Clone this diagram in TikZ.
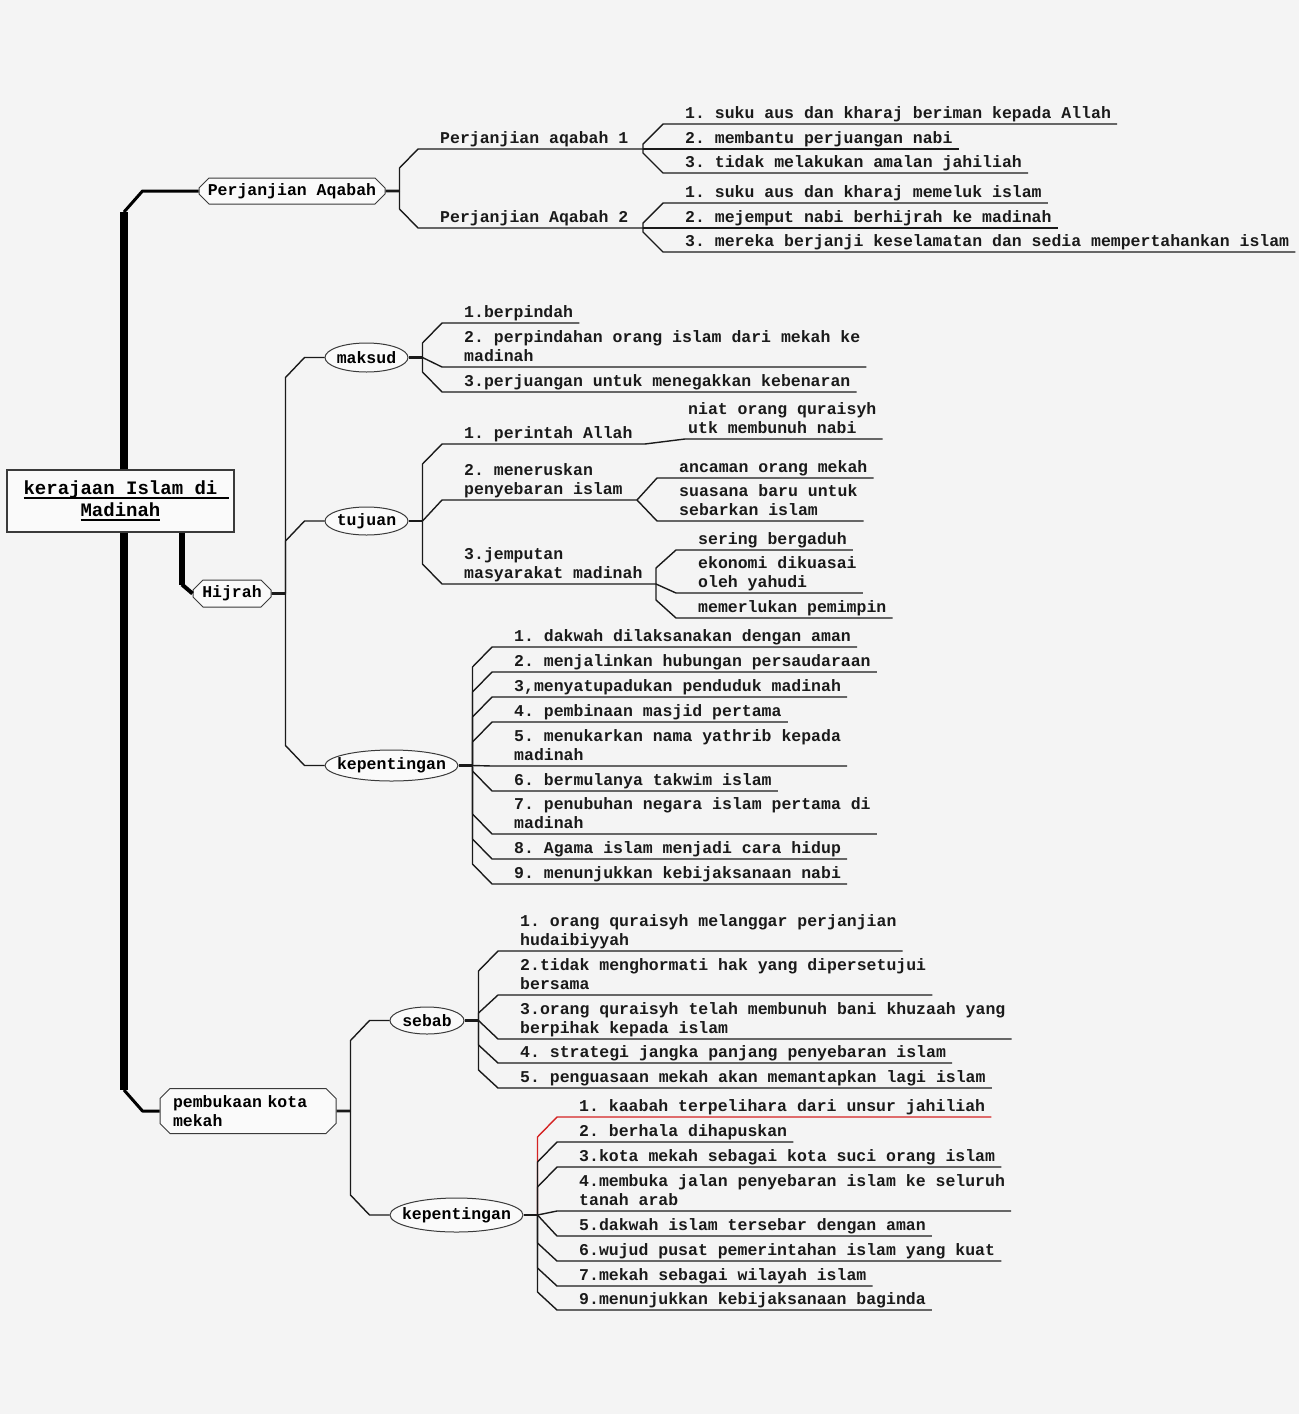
\documentclass[tikz,border=0pt]{standalone}
\usepackage{fontspec}
\setmainfont{Liberation Mono}
\usepackage{tikz}
\usetikzlibrary{shapes}
\usetikzlibrary{calc}
\usetikzlibrary{positioning}
\definecolor{paper}{HTML}{F4F4F4}
\definecolor{boxfill}{HTML}{FAFAFA}
\definecolor{mapline}{HTML}{1A1A1A}
\definecolor{rim}{HTML}{3A3A3A}
\definecolor{hilite}{HTML}{D42222}
\frenchspacing
\newcommand{\leaffont}{\fontsize{16.5}{19}\selectfont\bfseries}
\newcommand{\rootfont}{\fontsize{19}{22}\selectfont\bfseries}
\newcommand{\ulin}[1]{\setbox0=\hbox{#1}\rlap{\rule[-4.5pt]{\wd0}{1.8pt}}\box0}
\newcommand{\lbl}[1]{\makebox[0pt]{#1}}
\tikzstyle{rootbox} = [draw=rim, fill=boxfill, line width=1.2pt, minimum width=227pt, minimum height=62pt, inner sep=0pt, align=center, font=\rootfont]
\tikzstyle{topic} = [chamfered rectangle, chamfered rectangle xsep=5pt, chamfered rectangle ysep=5pt, draw=rim, fill=boxfill, line width=1pt, inner sep=0pt]
\tikzstyle{subtopic} = [ellipse, draw=rim, fill=boxfill, line width=1pt, inner sep=0pt]
\tikzstyle{leaf} = [anchor=south west, xshift=16pt, yshift=-0.7pt, inner xsep=6pt, inner ysep=0pt, align=left, text=mapline, execute at end node=\strut]
\tikzstyle{conn} = [draw=mapline, line width=1.4pt, line join=round]
\tikzstyle{stub} = [draw=mapline, line width=2.6pt]
\tikzstyle{trunk} = [draw=black, line width=8pt]
\tikzstyle{elbow} = [draw=black, line width=3pt, line join=round]

\begin{document}
\begin{tikzpicture}[x=1pt, y=-1pt, font=\leaffont]
  \fill[paper] (0,0) rectangle (1299,1414);
  \useasboundingbox (0,0) rectangle (1299,1414);

  % main topics
  \node[rootbox] (root) at (120.5,501) {\ulin{kerajaan Islam di}\rlap{\ulin{\ }}\\\ulin{Madinah}};
  \node[topic, minimum width=186pt, minimum height=26pt] (aqabah) at (292,191) {Perjanjian Aqabah};
  \node[topic, minimum width=78pt, minimum height=27pt] (hijrah) at (232,593.5) {Hijrah};
  \node[topic, minimum width=176pt, minimum height=45pt, text width=150pt, align=left] (mekah) at (248,1111) {pembukaan kota\\mekah};
  \coordinate (tk) at (124,501);
  \coordinate (hk) at (182,501);
  \draw[trunk] (tk |- root.north) -- ([yshift=-21pt]aqabah.west -| tk);
  \draw[trunk] (tk |- root.south) -- ([yshift=21pt]mekah.west -| tk);
  \draw[trunk, line width=6pt] (hk |- root.south) -- ([yshift=9pt]hijrah.west -| hk);
  \draw[elbow] ([yshift=-21pt]aqabah.west -| tk) -- ([xshift=-56pt]aqabah.west) -- (aqabah.west);
  \draw[elbow] ([yshift=21pt]mekah.west -| tk) -- ([xshift=-17pt]mekah.west) -- (mekah.west);
  \draw[elbow, line width=4pt] ([yshift=9pt]hijrah.west -| hk) -- (hijrah.west);

  % Perjanjian Aqabah
  \coordinate (aj) at ($(aqabah.east)+(14,0)$);
  \draw[stub] (aqabah) -- (aj);
  \coordinate (a1) at (418,149); \node[leaf] (a1t) at (a1) {Perjanjian aqabah 1};
  \coordinate (a2) at (418,228); \node[leaf] (a2t) at (a2) {Perjanjian Aqabah 2};
  \coordinate (a1j) at (643,149);
  \coordinate (a2j) at (643,228);
  \draw[conn] (aj) -- ([yshift=-19pt]a1 -| aj) -- (a1) -- (a1j);
  \draw[conn] (aj) -- ([yshift=19pt]a2 -| aj) -- (a2) -- (a2j);
  \coordinate (a11) at (663,124); \node[leaf] (a11t) at (a11) {1. suku aus dan kharaj beriman kepada Allah};
  \coordinate (a12) at (663,149); \node[leaf] (a12t) at (a12) {2. membantu perjuangan nabi};
  \coordinate (a13) at (663,173); \node[leaf] (a13t) at (a13) {3. tidak melakukan amalan jahiliah};
  \draw[conn] (a1j) -- ([yshift=-20pt]a11 -| a1j) -- (a11) -- (a11 -| a11t.east);
  \draw[conn] (a1j) -- (a12) -- (a12 -| a12t.east);
  \draw[conn] (a1j) -- ([yshift=20pt]a13 -| a1j) -- (a13) -- (a13 -| a13t.east);
  \coordinate (a21) at (663,203); \node[leaf] (a21t) at (a21) {1. suku aus dan kharaj memeluk islam};
  \coordinate (a22) at (663,228); \node[leaf] (a22t) at (a22) {2. mejemput nabi berhijrah ke madinah};
  \coordinate (a23) at (663,252); \node[leaf] (a23t) at (a23) {3. mereka berjanji keselamatan dan sedia mempertahankan islam};
  \draw[conn] (a2j) -- ([yshift=-20pt]a21 -| a2j) -- (a21) -- (a21 -| a21t.east);
  \draw[conn] (a2j) -- (a22) -- (a22 -| a22t.east);
  \draw[conn] (a2j) -- ([yshift=20pt]a23 -| a2j) -- (a23) -- (a23 -| a23t.east);

  % Hijrah
  \coordinate (hj) at ($(hijrah.east)+(14,0)$);
  \draw[stub] (hijrah) -- (hj);
  \node[subtopic, minimum width=83pt, minimum height=29pt] (maksud) at (366.5,357.5) {\lbl{maksud}};
  \node[subtopic, minimum width=83pt, minimum height=28pt] (tujuan) at (366.5,521) {\lbl{tujuan}};
  \node[subtopic, minimum width=133pt, minimum height=31pt] (hkep) at (391.5,765.5) {\lbl{kepentingan}};
  \draw[conn] (hj) -- ([yshift=-20pt]maksud.west -| hj) -- ([xshift=-20pt]maksud.west) -- (maksud);
  \draw[conn] (hj) -- ([yshift=-20pt]tujuan.west -| hj) -- ([xshift=-20pt]tujuan.west) -- (tujuan);
  \draw[conn] (hj) -- ([yshift=20pt]hkep.west -| hj) -- ([xshift=-20pt]hkep.west) -- (hkep);

  % maksud
  \coordinate (mj) at ($(maksud.east)+(14,0)$);
  \draw[stub] (maksud) -- (mj);
  \coordinate (m1) at (442,323); \node[leaf] (m1t) at (m1) {1.berpindah};
  \coordinate (m2) at (442,367); \node[leaf] (m2t) at (m2) {2. perpindahan orang islam dari mekah ke\\madinah};
  \coordinate (m3) at (442,392); \node[leaf] (m3t) at (m3) {3.perjuangan untuk menegakkan kebenaran};
  \draw[conn] (mj) -- ([yshift=-20pt]m1 -| mj) -- (m1) -- (m1 -| m1t.east);
  \draw[conn] (mj) -- (m2) -- (m2 -| m2t.east);
  \draw[conn] (mj) -- ([yshift=20pt]m3 -| mj) -- (m3) -- (m3 -| m3t.east);

  % tujuan
  \coordinate (tj) at ($(tujuan.east)+(14,0)$);
  \draw[stub] (tujuan) -- (tj);
  \coordinate (t1) at (442,444); \node[leaf] (t1t) at (t1) {1. perintah Allah};
  \coordinate (t2) at (442,500); \node[leaf] (t2t) at (t2) {2. meneruskan\\penyebaran islam};
  \coordinate (t3) at (442,584); \node[leaf] (t3t) at (t3) {3.jemputan\\masyarakat madinah};
  \coordinate (t1j) at (645,444);
  \coordinate (t2j) at (637,500);
  \coordinate (t3j) at (656,584);
  \draw[conn] (tj) -- ([yshift=-20pt]t1 -| tj) -- (t1) -- (t1j);
  \draw[conn] (tj) -- (t2) -- (t2j);
  \draw[conn] (tj) -- ([yshift=20pt]t3 -| tj) -- (t3) -- (t3j);
  \coordinate (t11) at (685,439); \node[leaf, xshift=-19pt] (t11t) at (t11) {niat orang quraisyh\\utk membunuh nabi};
  \draw[conn] (t1j) -- (t11) -- (t11 -| t11t.east);
  \coordinate (t21) at (657,478); \node[leaf] (t21t) at (t21) {ancaman orang mekah};
  \coordinate (t22) at (657,521); \node[leaf] (t22t) at (t22) {suasana baru untuk\\sebarkan islam};
  \draw[conn] (t2j) -- (t21) -- (t21 -| t21t.east);
  \draw[conn] (t2j) -- (t22) -- (t22 -| t22t.east);
  \coordinate (t31) at (676,550); \node[leaf] (t31t) at (t31) {sering bergaduh};
  \coordinate (t32) at (676,593); \node[leaf] (t32t) at (t32) {ekonomi dikuasai\\oleh yahudi};
  \coordinate (t33) at (676,618); \node[leaf] (t33t) at (t33) {memerlukan pemimpin};
  \draw[conn] (t3j) -- ([yshift=-18pt]t31 -| t3j) -- (t31) -- (t31 -| t31t.east);
  \draw[conn] (t3j) -- (t32) -- (t32 -| t32t.east);
  \draw[conn] (t3j) -- ([yshift=18pt]t33 -| t3j) -- (t33) -- (t33 -| t33t.east);

  % kepentingan hijrah
  \coordinate (kj) at ($(hkep.east)+(14,0)$);
  \draw[stub] (hkep) -- (kj);
  \coordinate (k1) at (492,647); \node[leaf] (k1t) at (k1) {1. dakwah dilaksanakan dengan aman};
  \coordinate (k2) at (492,672); \node[leaf] (k2t) at (k2) {2. menjalinkan hubungan persaudaraan};
  \coordinate (k3) at (492,697); \node[leaf] (k3t) at (k3) {3,menyatupadukan penduduk madinah};
  \coordinate (k4) at (492,722); \node[leaf] (k4t) at (k4) {4. pembinaan masjid pertama};
  \coordinate (k5) at (492,766); \node[leaf] (k5t) at (k5) {5. menukarkan nama yathrib kepada\\madinah};
  \coordinate (k6) at (492,791); \node[leaf] (k6t) at (k6) {6. bermulanya takwim islam};
  \coordinate (k7) at (492,834); \node[leaf] (k7t) at (k7) {7. penubuhan negara islam pertama di\\madinah};
  \coordinate (k8) at (492,859); \node[leaf] (k8t) at (k8) {8. Agama islam menjadi cara hidup};
  \coordinate (k9) at (492,884); \node[leaf] (k9t) at (k9) {9. menunjukkan kebijaksanaan nabi};
  \draw[conn] (kj) -- ([yshift=-20pt]k1 -| kj) -- (k1) -- (k1 -| k1t.east);
  \draw[conn] (kj) -- ([yshift=-20pt]k2 -| kj) -- (k2) -- (k2 -| k2t.east);
  \draw[conn] (kj) -- ([yshift=-20pt]k3 -| kj) -- (k3) -- (k3 -| k3t.east);
  \draw[conn] (kj) -- ([yshift=-20pt]k4 -| kj) -- (k4) -- (k4 -| k4t.east);
  \draw[conn] (kj) -- (k5) -- (k5 -| k5t.east);
  \draw[conn] (kj) -- ([yshift=20pt]k6 -| kj) -- (k6) -- (k6 -| k6t.east);
  \draw[conn] (kj) -- ([yshift=20pt]k7 -| kj) -- (k7) -- (k7 -| k7t.east);
  \draw[conn] (kj) -- ([yshift=20pt]k8 -| kj) -- (k8) -- (k8 -| k8t.east);
  \draw[conn] (kj) -- ([yshift=20pt]k9 -| kj) -- (k9) -- (k9 -| k9t.east);

  % pembukaan kota mekah
  \coordinate (mkj) at ($(mekah.east)+(14,0)$);
  \draw[stub] (mekah) -- (mkj);
  \node[subtopic, minimum width=74pt, minimum height=27pt] (sebab) at (427,1020.5) {\lbl{sebab}};
  \node[subtopic, minimum width=133pt, minimum height=34pt] (mkep) at (456.5,1215) {\lbl{kepentingan}};
  \draw[conn] (mkj) -- ([yshift=-20pt]sebab.west -| mkj) -- ([xshift=-20pt]sebab.west) -- (sebab);
  \draw[conn] (mkj) -- ([yshift=20pt]mkep.west -| mkj) -- ([xshift=-20pt]mkep.west) -- (mkep);

  % sebab
  \coordinate (sj) at ($(sebab.east)+(14,0)$);
  \draw[stub] (sebab) -- (sj);
  \coordinate (s1) at (498,951); \node[leaf] (s1t) at (s1) {1. orang quraisyh melanggar perjanjian\\hudaibiyyah};
  \coordinate (s2) at (498,995); \node[leaf] (s2t) at (s2) {2.tidak menghormati hak yang dipersetujui\\bersama};
  \coordinate (s3) at (498,1039); \node[leaf] (s3t) at (s3) {3.orang quraisyh telah membunuh bani khuzaah yang\\berpihak kepada islam};
  \coordinate (s4) at (498,1063); \node[leaf] (s4t) at (s4) {4. strategi jangka panjang penyebaran islam};
  \coordinate (s5) at (498,1088); \node[leaf] (s5t) at (s5) {5. penguasaan mekah akan memantapkan lagi islam};
  \draw[conn] (sj) -- ([yshift=-20pt]s1 -| sj) -- (s1) -- (s1 -| s1t.east);
  \draw[conn] (sj) -- ([yshift=-18pt]s2 -| sj) -- (s2) -- (s2 -| s2t.east);
  \draw[conn] (sj) -- (s3) -- (s3 -| s3t.east);
  \draw[conn] (sj) -- ([yshift=18pt]s4 -| sj) -- (s4) -- (s4 -| s4t.east);
  \draw[conn] (sj) -- ([yshift=18pt]s5 -| sj) -- (s5) -- (s5 -| s5t.east);

  % kepentingan mekah
  \coordinate (pj) at ($(mkep.east)+(14,0)$);
  \draw[stub] (mkep) -- (pj);
  \coordinate (p1) at (557,1117); \node[leaf] (p1t) at (p1) {1. kaabah terpelihara dari unsur jahiliah};
  \coordinate (p2) at (557,1142); \node[leaf] (p2t) at (p2) {2. berhala dihapuskan};
  \coordinate (p3) at (557,1167); \node[leaf] (p3t) at (p3) {3.kota mekah sebagai kota suci orang islam};
  \coordinate (p4) at (557,1211); \node[leaf] (p4t) at (p4) {4.membuka jalan penyebaran islam ke seluruh\\tanah arab};
  \coordinate (p5) at (557,1236); \node[leaf] (p5t) at (p5) {5.dakwah islam tersebar dengan aman};
  \coordinate (p6) at (557,1261); \node[leaf] (p6t) at (p6) {6.wujud pusat pemerintahan islam yang kuat};
  \coordinate (p7) at (557,1286); \node[leaf] (p7t) at (p7) {7.mekah sebagai wilayah islam};
  \coordinate (p9) at (557,1310); \node[leaf] (p9t) at (p9) {9.menunjukkan kebijaksanaan baginda};
  \draw[conn, draw=hilite] (pj) -- ([yshift=-20pt]p1 -| pj) -- (p1) -- (p1 -| p1t.east);
  \draw[conn] (pj) -- ([yshift=-20pt]p2 -| pj) -- (p2) -- (p2 -| p2t.east);
  \draw[conn] (pj) -- ([yshift=-20pt]p3 -| pj) -- (p3) -- (p3 -| p3t.east);
  \draw[conn] (pj) -- (p4) -- (p4 -| p4t.east);
  \draw[conn] (pj) -- (p5) -- (p5 -| p5t.east);
  \draw[conn] (pj) -- ([yshift=18pt]p6 -| pj) -- (p6) -- (p6 -| p6t.east);
  \draw[conn] (pj) -- ([yshift=18pt]p7 -| pj) -- (p7) -- (p7 -| p7t.east);
  \draw[conn] (pj) -- ([yshift=18pt]p9 -| pj) -- (p9) -- (p9 -| p9t.east);
\end{tikzpicture}
\end{document}
